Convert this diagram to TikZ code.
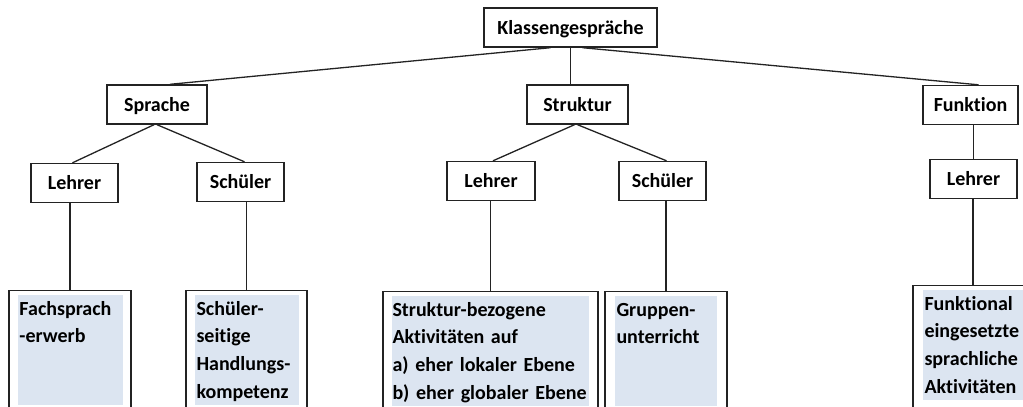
\documentclass[tikz,border=0pt]{standalone}
\usepackage{fontspec}
\setmainfont{Carlito}[Ligatures=NoCommon]
\hyphenpenalty=10000
\definecolor{fillblue}{RGB}{220,229,241}
\definecolor{linegray}{RGB}{35,35,35}
\tikzset{
	labelbox/.style={draw=linegray, line width=1.4pt, font=\fontsize{20}{24}\selectfont\bfseries, minimum height=39pt, inner sep=0pt, text height=13pt, text depth=0pt},
	outerbox/.style={draw=linegray, line width=1.4pt, fill=white, anchor=north, minimum height=140pt, inner sep=0pt},
	textfill/.style={fill=fillblue, anchor=north west, font=\fontsize{20}{27.7}\selectfont\bfseries, align=left, inner xsep=2pt, inner ysep=4pt, text height=16pt, text depth=86pt},
	connector/.style={draw=linegray, line width=1.3pt}
}

\begin{document}
\begin{tikzpicture}[x=1pt, y=-1pt]
	\useasboundingbox (0,0) rectangle (1023,407);
	\clip (0,0) rectangle (1023,407);

	\node [labelbox, minimum width=173pt] (klasse) at (570.5, 27.5) {Klassengespräche};
	\node [labelbox, minimum width=100pt] (sprache) at (157, 104.5) {Sprache};
	\node [labelbox, minimum width=101pt] (struktur) at (577.5, 104.5) {Struktur};
	\node [labelbox, minimum width=95pt] (funktion) at (970.5, 105) {Funktion};
	\node [labelbox, minimum width=87pt] (lehrerS) at (74.5, 183) {Lehrer};
	\node [labelbox, minimum width=87pt] (schuelerS) at (240.5, 182) {Schüler};
	\node [labelbox, minimum width=88pt] (lehrerT) at (491, 181) {Lehrer};
	\node [labelbox, minimum width=87pt] (schuelerT) at (662.5, 181) {Schüler};
	\node [labelbox, minimum width=87pt] (lehrerF) at (973.5, 179) {Lehrer};

	\node [outerbox, minimum width=122pt] (fach) at (70, 290) {};
	\node [outerbox, minimum width=121pt] (seitig) at (246.5, 290) {};
	\node [outerbox, minimum width=215pt] (aktiv) at (490.5, 291) {};
	\node [outerbox, minimum width=122pt] (gruppen) at (666, 291) {};
	\node [outerbox, minimum width=120pt] (funktional) at (973, 285) {};

	\node [textfill, text width=101pt] (fachtext) at ([shift={(9,5)}]fach.north west) {Fachsprach\\-erwerb};
	\node [textfill, text width=100pt] (seitigtext) at ([shift={(9,5)}]seitig.north west) {Schüler-\\seitige\\Handlungs-\\kompetenz};
	\node [textfill, text width=195pt, inner xsep=1pt] (aktivtext) at ([shift={(9,5)}]aktiv.north west) {Struktur-bezogene\\Aktivitäten auf\\a) eher lokaler Ebene\\b) eher globaler Ebene};
	\node [textfill, text width=98pt] (gruppentext) at ([shift={(10,5)}]gruppen.north west) {Gruppen-\\unterricht};
	\node [textfill, text width=106pt] (funktionaltext) at ([shift={(10,5)}]funktional.north west) {Funktional\\eingesetzte\\sprachliche\\Aktivitäten};

	\draw [connector] ([xshift=-20pt]klasse.south) -- ([xshift=13pt]sprache.north);
	\draw [connector] (klasse.south) -- (klasse.south |- struktur.north);
	\draw [connector] ([xshift=12pt]klasse.south) -- ([xshift=8pt]funktion.north);
	\draw [connector] ([xshift=-3pt]sprache.south) -- ([xshift=-2pt]lehrerS.north);
	\draw [connector] (sprache.south) -- ([xshift=4pt]schuelerS.north);
	\draw [connector] ([xshift=-3pt]struktur.south) -- ([xshift=2pt]lehrerT.north);
	\draw [connector] (struktur.south) -- ([xshift=4pt]schuelerT.north);
	\draw [connector] (funktion.south -| lehrerF.north) -- (lehrerF.north);
	\draw [connector] (lehrerS.south -| fach.north) -- (fach.north);
	\draw [connector] (schuelerS.south -| seitig.north) -- (seitig.north);
	\draw [connector] (lehrerT.south -| aktiv.north) -- (aktiv.north);
	\draw [connector] (schuelerT.south -| gruppen.north) -- (gruppen.north);
	\draw [connector] (lehrerF.south -| funktional.north) -- (funktional.north);
\end{tikzpicture}
\end{document}
